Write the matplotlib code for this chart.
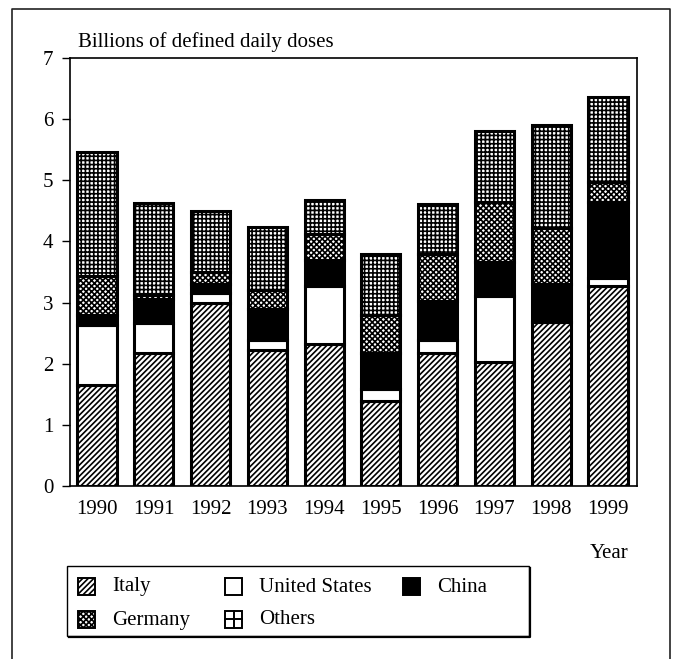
import numpy as np
import matplotlib
matplotlib.use('Agg')
import matplotlib.pyplot as plt
from matplotlib.patches import Rectangle
from matplotlib.lines import Line2D

plt.rcParams.update({
    'font.family': ['Liberation Serif', 'DejaVu Serif'],
    'font.size': 15,
    'hatch.linewidth': 1.2,
    'hatch.color': 'black',
})

# Data (billions of defined daily doses)
years = ['1990', '1991', '1992', '1993', '1994', '1995', '1996', '1997', '1998', '1999']
italy = [1.65, 2.18, 3.00, 2.23, 2.32, 1.39, 2.17, 2.03, 2.68, 3.27]
united_states = [0.98, 0.49, 0.16, 0.15, 0.95, 0.19, 0.21, 1.07, 0.00, 0.14]
china = [0.16, 0.39, 0.15, 0.52, 0.43, 0.59, 0.64, 0.56, 0.62, 1.23]
germany = [0.65, 0.06, 0.19, 0.30, 0.42, 0.62, 0.78, 0.98, 0.92, 0.34]
others = [2.03, 1.51, 0.99, 1.04, 0.55, 1.00, 0.82, 1.16, 1.68, 1.39]

series = [
    ('Italy', italy, 'white', '//////'),
    ('United States', united_states, 'white', None),
    ('China', china, 'black', None),
    ('Germany', germany, 'white', 'xxxxxx'),
    ('Others', others, 'white', '++++'),
]

W, H = 674, 659
fig = plt.figure(figsize=(W / 100, H / 100), dpi=100)
ax = fig.add_axes([70 / W, 1 - 486 / H, (637 - 70) / W, (486 - 58) / H])

x = np.arange(len(years))
bottom = np.zeros(len(years))
for name, vals, fc, hatch in series:
    vals = np.array(vals)
    ax.bar(x, vals, width=0.69, bottom=bottom, color=fc, edgecolor='black',
           linewidth=2.2, hatch=hatch, label=name)
    bottom += vals

ax.set_xlim(-0.475, 9.51)
ax.set_ylim(0, 7)
ax.set_yticks(range(8))
ax.set_xticks(x)
ax.set_xticklabels(years)
ax.tick_params(axis='x', length=0, pad=10)
ax.tick_params(axis='y', length=6, width=1, pad=6)
for s in ax.spines.values():
    s.set_linewidth(1.2)

fig.text(78 / W, 1 - 42 / H, 'Billions of defined daily doses', ha='left', va='center')
fig.text(628 / W, 1 - 553 / H, 'Year', ha='right', va='center')

# outer frame (bottom edge runs off the image)
fl, ft, fr = 12 / W, 1 - 9 / H, 670 / W
fig.add_artist(Line2D([fl, fl, fr, fr], [0, ft, ft, 0], color='#222222', lw=1.2))

# legend box drawn by hand
lx0, lx1 = 67 / W, 529 / W
ly0, ly1 = 1 - 636 / H, 1 - 566 / H
fig.add_artist(Rectangle((lx0, ly0), lx1 - lx0, ly1 - ly0, transform=fig.transFigure,
                         facecolor='white', edgecolor='black', lw=1.0))
fig.add_artist(Line2D([lx0 + 2 / W, lx1 + 1 / W, lx1 + 1 / W], [ly0 - 1 / H, ly0 - 1 / H, ly1 - 2 / H],
                      color='black', lw=1.6))

entries = [
    ('Italy', 'white', '//////', 78, 586),
    ('Germany', 'white', 'xxxxxx', 78, 619),
    ('United States', 'white', None, 225, 586),
    ('Others', 'white', 'cross', 225, 619),
    ('China', 'black', None, 403, 586),
]
hs = 17
for name, fc, hatch, px, py in entries:
    r = Rectangle((px / W, 1 - (py + hs / 2) / H), hs / W, hs / H, transform=fig.transFigure,
                  facecolor=fc, edgecolor='black', lw=1.4,
                  hatch=None if hatch == 'cross' else hatch)
    fig.add_artist(r)
    if hatch == 'cross':
        fig.add_artist(Line2D([(px + hs / 2) / W] * 2, [1 - (py - hs / 2) / H, 1 - (py + hs / 2) / H],
                              color='black', lw=1.4))
        fig.add_artist(Line2D([px / W, (px + hs) / W], [1 - py / H] * 2, color='black', lw=1.4))
    fig.text((px + hs + 17) / W, 1 - (py + 1) / H, name, ha='left', va='center')

fig.savefig('out.png', dpi=100)
